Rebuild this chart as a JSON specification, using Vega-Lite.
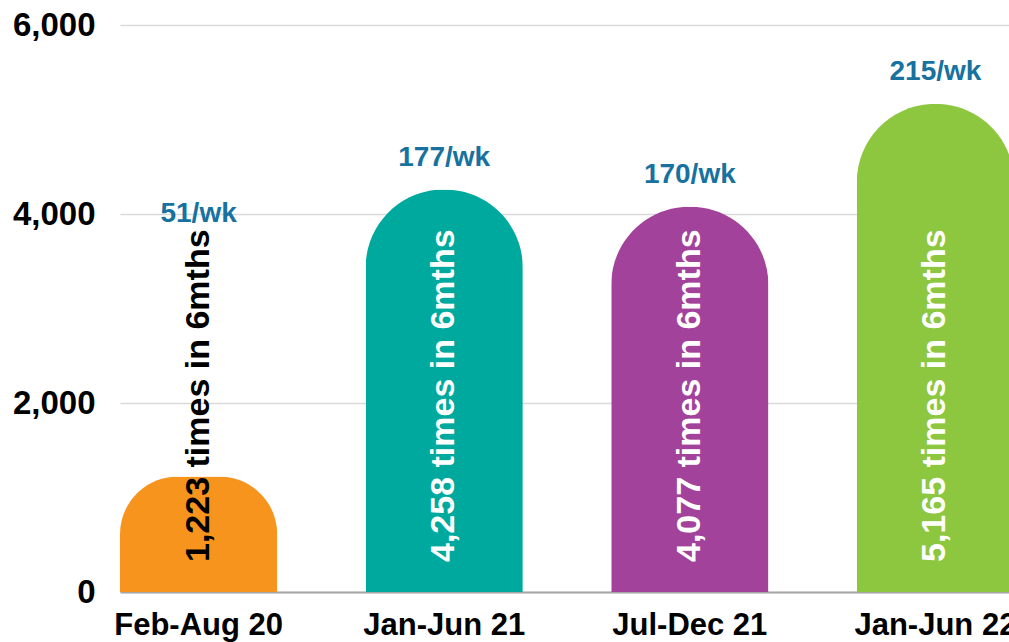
{
  "$schema": "https://vega.github.io/schema/vega-lite/v6.json",
  "width": 889,
  "height": 567,
  "autosize": {"type": "none"},
  "padding": {"left": 120, "top": 25, "right": 0, "bottom": 50},
  "background": "white",
  "config": {
    "view": {"stroke": null},
    "font": "Liberation Sans"
  },
  "data": {
    "values": [
      {"period": "Feb-Aug 20", "value": 1223, "label": "1,223 times in 6mths", "weekly": "51/wk"},
      {"period": "Jan-Jun 21", "value": 4258, "label": "4,258 times in 6mths", "weekly": "177/wk"},
      {"period": "Jul-Dec 21", "value": 4077, "label": "4,077 times in 6mths", "weekly": "170/wk"},
      {"period": "Jan-Jun 22", "value": 5165, "label": "5,165 times in 6mths", "weekly": "215/wk"}
    ]
  },
  "encoding": {
    "x": {
      "field": "period",
      "type": "nominal",
      "sort": null,
      "scale": {"paddingInner": 0.36, "paddingOuter": 0, "range": [0, 894]},
      "axis": {
        "title": null,
        "labelAngle": 0,
        "labelFontSize": 31,
        "labelFontWeight": "bold",
        "labelColor": "#000000",
        "labelPadding": 18,
        "ticks": false,
        "domainColor": "#a6a6a6",
        "domainWidth": 2,
        "labelFont": "Liberation Sans"
      }
    }
  },
  "layer": [
    {
      "mark": {"type": "bar", "cornerRadiusTopLeft": 78, "cornerRadiusTopRight": 78},
      "encoding": {
        "y": {
          "field": "value",
          "type": "quantitative",
          "scale": {"domain": [0, 6000], "nice": false},
          "axis": {
            "title": null,
            "values": [0, 2000, 4000, 6000],
            "format": ",d",
            "labelFontSize": 33,
            "labelFontWeight": "bold",
            "labelColor": "#000000",
            "labelPadding": 25,
            "ticks": false,
            "domain": false,
            "gridColor": "#d9d9d9",
            "gridWidth": 1.5,
            "labelFont": "Liberation Sans"
          }
        },
        "color": {
          "field": "period",
          "type": "nominal",
          "sort": null,
          "scale": {
            "domain": ["Feb-Aug 20", "Jan-Jun 21", "Jul-Dec 21", "Jan-Jun 22"],
            "range": ["#f7941d", "#00a99d", "#a3429b", "#8dc63f"]
          },
          "legend": null
        }
      }
    },
    {
      "mark": {"type": "text", "angle": 270, "align": "left", "baseline": "middle", "fontSize": 34, "fontWeight": "bold", "dx": 30},
      "encoding": {
        "y": {"datum": 0, "type": "quantitative"},
        "text": {"field": "label"},
        "color": {
          "condition": {"test": "datum.value < 2000", "value": "#000000"},
          "value": "#ffffff"
        }
      }
    },
    {
      "transform": [{"filter": "datum.value >= 2000"}],
      "mark": {"type": "text", "baseline": "middle", "fontSize": 28, "fontWeight": "bold", "dy": -32, "color": "#17729f"},
      "encoding": {
        "y": {"field": "value", "type": "quantitative"},
        "text": {"field": "weekly"}
      }
    },
    {
      "transform": [{"filter": "datum.value < 2000"}],
      "mark": {"type": "text", "baseline": "middle", "fontSize": 28, "fontWeight": "bold", "color": "#17729f"},
      "encoding": {
        "y": {"datum": 4000, "type": "quantitative"},
        "text": {"field": "weekly"}
      }
    }
  ]
}
